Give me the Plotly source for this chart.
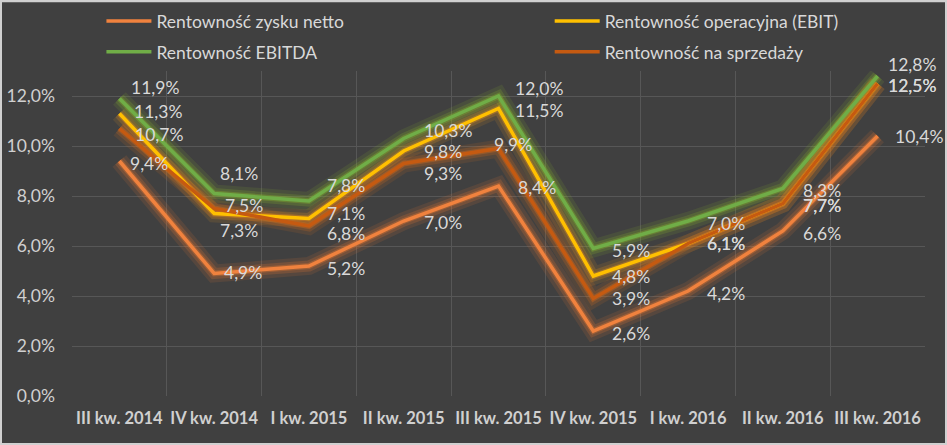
import plotly.graph_objects as go

categories = ["III kw. 2014", "IV kw. 2014", "I kw. 2015", "II kw. 2015", "III kw. 2015",
              "IV kw. 2015", "I kw. 2016", "II kw. 2016", "III kw. 2016"]

netto = [9.4, 4.9, 5.2, 7.0, 8.4, 2.6, 4.2, 6.6, 10.4]
ebit = [11.3, 7.3, 7.1, 9.8, 11.5, 4.8, 6.1, 7.7, 12.5]
ebitda = [11.9, 8.1, 7.8, 10.3, 12.0, 5.9, 7.0, 8.3, 12.8]
sprzedaz = [10.7, 7.5, 6.8, 9.3, 9.9, 3.9, 6.1, 7.7, 12.5]

tick_vals = [0, 2, 4, 6, 8, 10, 12]
tick_text = ["0,0%", "2,0%", "4,0%", "6,0%", "8,0%", "10,0%", "12,0%"]

# label offsets in px (right, down) from each point
off_netto = [(9, 2), (8, -1), (16, 2), (18, 1), (17, 1), (17, 2), (17, 2), (18, 2), (15, 0)]
off_ebit = [(13, -2), (4, 17), (16, -5), (18, 0), (14, 2), (17, 0), (17, 0), (18, 2), (8, 2)]
off_ebitda = [(10, -11), (4, -20), (16, -16), (18, -8), (14, -8), (17, 2), (17, 2), (18, 2), (8, -12)]
off_sprz = [(14, 6), (9, -3), (16, 7), (18, 10), (-7, -4), (17, 0), (17, 0), (18, 2), (8, 2)]

series = [
    ("Rentowność zysku netto", netto, "#F0823E", "#F07A30", off_netto, "legend"),
    ("Rentowność operacyjna (EBIT)", ebit, "#FFC000", "#F39A1E", off_ebit, "legend2"),
    ("Rentowność EBITDA", ebitda, "#70AD47", "#8DBA2E", off_ebitda, "legend"),
    ("Rentowność na sprzedaży", sprzedaz, "#C55A11", "#E0701C", off_sprz, "legend2"),
]

fig = go.Figure()

# glow under the lines
for name, vals, color, glow, offs, lg in series:
    for w, op in ((18, 0.12), (11, 0.2), (6, 0.32)):
        fig.add_trace(go.Scatter(
            x=categories, y=vals, mode="lines",
            line=dict(color=glow, width=w), opacity=op,
            hoverinfo="skip", showlegend=False,
        ))

for name, vals, color, glow, offs, lg in series:
    fig.add_trace(go.Scatter(
        x=categories, y=vals, mode="lines", name=name, legendgroup=name,
        line=dict(color=color, width=3.5), legend=lg,
    ))

for name, vals, color, glow, offs, lg in series:
    for c, v, (dx, dy) in zip(categories, vals, offs):
        fig.add_annotation(
            x=c, y=v, text=f"{v:.1f}".replace(".", ",") + "%",
            showarrow=False, xanchor="left", yanchor="middle",
            xshift=dx, yshift=-dy,
            font=dict(family="Lato", size=17.5, color="#D9D9D9"),
        )

# light frame around the chart
fig.add_shape(type="rect", xref="paper", yref="paper", x0=-0.0844, x1=1.0258, y0=-0.151, y1=1.218,
              line=dict(color="#D0D0D0", width=4))

legend_style = dict(xanchor="left", yanchor="top", bgcolor="rgba(0,0,0,0)",
                    font=dict(size=17.5, color="#D9D9D9"), itemwidth=45,
                    tracegroupgap=5, traceorder="grouped")

fig.update_layout(
    width=947, height=445,
    margin=dict(l=72, r=22, t=71, b=49, autoexpand=False),
    paper_bgcolor="#404040", plot_bgcolor="#404040",
    font=dict(family="Lato", color="#D9D9D9"),
    legend=dict(x=0.0345, y=1.209, **legend_style),
    legend2=dict(x=0.560, y=1.209, **legend_style),
    xaxis=dict(range=[-0.5, 8.5], tickson="boundaries", showgrid=True, gridcolor="#575757",
               gridwidth=1, showline=False, ticks="", ticklabelstandoff=10, tickangle=0,
               automargin=False,
               tickfont=dict(size=16.5, color="#D0D0D0", family="Lato", weight="bold")),
    yaxis=dict(range=[0, 13], tickvals=tick_vals, ticktext=tick_text, showgrid=True,
               gridcolor="#575757", zeroline=False, showline=False, ticks="",
               automargin=False, ticklabelstandoff=16,
               tickfont=dict(size=17.5, color="#D0D0D0")),
)

fig.write_html("out.html", config={"displayModeBar": False},
               post_script="document.body.style.margin='0';")
